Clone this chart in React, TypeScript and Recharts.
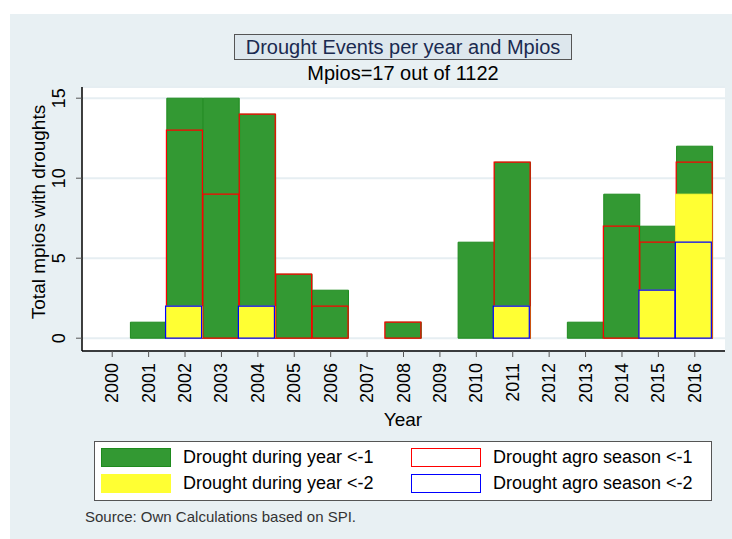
import { BarChart, Bar, XAxis, YAxis, CartesianGrid } from 'recharts'

const years = ['2000', '2001', '2002', '2003', '2004', '2005', '2006', '2007', '2008', '2009', '2010', '2011', '2012', '2013', '2014', '2015', '2016']
const yearLt1 = [0, 1, 15, 15, 14, 4, 3, 0, 1, 0, 6, 11, 0, 1, 9, 7, 12]
const agroLt1 = [0, 0, 13, 9, 14, 4, 2, 0, 1, 0, 0, 11, 0, 0, 7, 6, 11]
const yearLt2 = [0, 0, 2, 0, 2, 0, 0, 0, 0, 0, 0, 2, 0, 0, 0, 3, 9]
const agroLt2 = [0, 0, 2, 0, 2, 0, 0, 0, 0, 0, 0, 2, 0, 0, 0, 3, 6]
const yTicks = [0, 5, 10, 15]

const data = years.map((year, i) => ({
  year,
  yearLt1: yearLt1[i] || null,
  agroLt1: agroLt1[i] || null,
  yearLt2: yearLt2[i] || null,
  agroLt2: agroLt2[i] || null,
}))

const FONT = '"Liberation Sans", Arial, sans-serif'

const legendItems = [
  { label: 'Drought during year <-1', fill: '#339933', stroke: '#1e8a1e', x: 101, y: 448 },
  { label: 'Drought agro season <-1', fill: '#ffffff', stroke: '#ff0000', x: 411, y: 448 },
  { label: 'Drought during year <-2', fill: '#ffff33', stroke: '#ffff33', x: 101, y: 474 },
  { label: 'Drought agro season <-2', fill: '#ffffff', stroke: '#0000ff', x: 411, y: 474 },
]

function XTick({ x, y, payload }: any) {
  return (
    <text x={x + 6} y={y + 4} transform={`rotate(-90, ${x + 6}, ${y + 4})`} textAnchor="end" fontSize={18} fontFamily={FONT} fill="#000">
      {payload.value}
    </text>
  )
}

function YTick({ y, payload }: any) {
  return (
    <text x={65} y={y} transform={`rotate(-90, 65, ${y})`} textAnchor="middle" fontSize={18} fontFamily={FONT} fill="#000">
      {payload.value}
    </text>
  )
}

export default function App() {
  return (
    <div style={{ position: 'absolute', left: 0, top: 0, width: 732, height: 539, background: '#fff', fontFamily: FONT }}>
      <div style={{ position: 'absolute', left: 10, top: 14, width: 722, height: 525, background: '#e8f0f3' }} />
      <div style={{ position: 'absolute', left: 0, top: 0 }}>
        <BarChart
          width={732}
          height={539}
          data={data}
          margin={{ top: 87, right: 7, bottom: 128, left: 10 }}
          barCategoryGap={0}
          barGap="-100%"
        >
          <CartesianGrid vertical={false} stroke="#e6eef2" strokeWidth={2} fill="#ffffff" />
          <XAxis
            dataKey="year"
            height={60}
            interval={0}
            padding={{ left: 12, right: 12 }}
            tick={<XTick />}
            tickSize={6}
            tickLine={{ stroke: '#555' }}
            axisLine={{ stroke: '#000', strokeWidth: 1.5 }}
          />
          <YAxis
            width={72}
            type="number"
            domain={[-0.8, 15.7]}
            ticks={yTicks}
            allowDataOverflow
            tick={<YTick />}
            tickSize={6}
            tickLine={{ stroke: '#555' }}
            axisLine={{ stroke: '#000', strokeWidth: 1.5 }}
          />
          <Bar dataKey="yearLt1" fill="#339933" stroke="#1e8a1e" strokeWidth={1} isAnimationActive={false} />
          <Bar dataKey="agroLt1" fill="none" stroke="#ff0000" strokeWidth={1.2} isAnimationActive={false} />
          <Bar dataKey="yearLt2" fill="#ffff33" stroke="#ffff33" strokeWidth={1} isAnimationActive={false} />
          <Bar dataKey="agroLt2" fill="none" stroke="#0000ff" strokeWidth={1.2} isAnimationActive={false} />
        </BarChart>
      </div>

      <div style={{ position: 'absolute', left: 234, top: 34, width: 336, height: 24, background: '#dde7ed', border: '1.5px solid #555', textAlign: 'center', fontSize: 20, lineHeight: '24px', color: '#1a2a50' }}>
        Drought Events per year and Mpios
      </div>
      <div style={{ position: 'absolute', left: 0, width: 806, top: 61, textAlign: 'center', fontSize: 20, lineHeight: '24px', color: '#000' }}>
        Mpios=17 out of 1122
      </div>

      <div style={{ position: 'absolute', left: 48, top: 212, transform: 'rotate(-90deg)', transformOrigin: '0 0' }}>
        <div style={{ position: 'absolute', left: -150, width: 300, bottom: 0, textAlign: 'center', fontSize: 19, lineHeight: '19px', whiteSpace: 'nowrap', color: '#000' }}>
          Total mpios with droughts
        </div>
      </div>

      <div style={{ position: 'absolute', left: 0, width: 806, top: 408, textAlign: 'center', fontSize: 19, lineHeight: '24px', color: '#000' }}>
        Year
      </div>

      <div style={{ position: 'absolute', left: 94, top: 441, width: 616, height: 58, background: '#fff', border: '1.5px solid #555' }} />
      {legendItems.map((it) => (
        <div key={it.label}>
          <div style={{ position: 'absolute', left: it.x, top: it.y, width: 68, height: 17, background: it.fill, border: `1px solid ${it.stroke}` }} />
          <div style={{ position: 'absolute', left: it.x + 82, top: it.y - 3, fontSize: 18, lineHeight: '24px', color: '#000', whiteSpace: 'nowrap' }}>
            {it.label}
          </div>
        </div>
      ))}

      <div style={{ position: 'absolute', left: 85, top: 508, fontSize: 15, lineHeight: '18px', color: '#333', whiteSpace: 'nowrap' }}>
        Source: Own Calculations based on SPI.
      </div>
    </div>
  )
}
